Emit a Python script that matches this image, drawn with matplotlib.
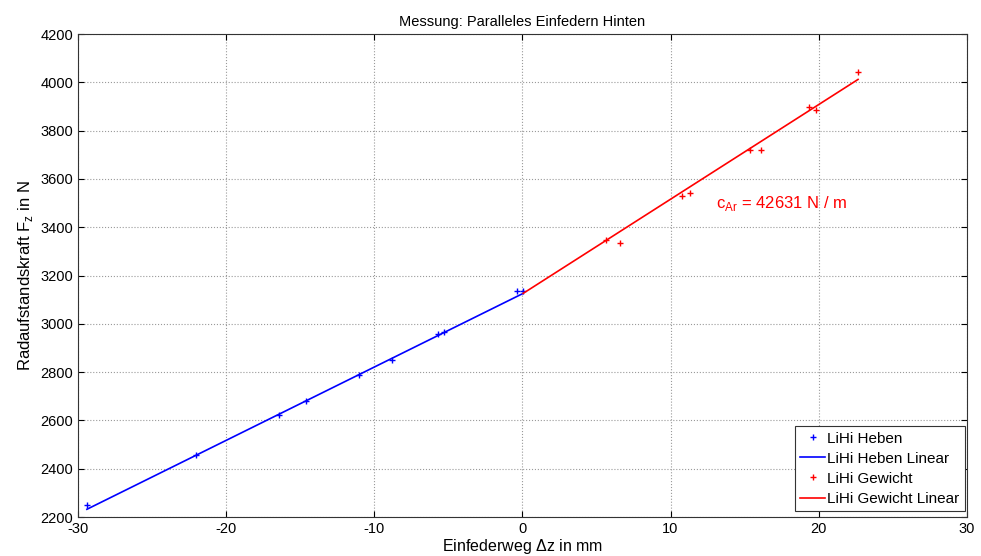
import matplotlib
matplotlib.use("Agg")
import matplotlib.pyplot as plt

plt.rcParams["font.family"] = ["Liberation Sans", "DejaVu Sans"]
plt.rcParams["axes.unicode_minus"] = False
plt.rcParams["mathtext.fontset"] = "custom"
plt.rcParams["mathtext.rm"] = "Liberation Sans"

# measured points, LiHi Heben (blue)
heben_x = [-29.4, -22.0, -16.4, -14.6, -11.0, -8.8, -5.7, -5.3, -0.35, 0.05]
heben_y = [2250, 2457, 2624, 2680, 2790, 2850, 2958, 2966, 3136, 3136]
# linear fit line endpoints
heben_fit_x = [-29.4, 0.05]
heben_fit_y = [2232, 3126]

# measured points, LiHi Gewicht (red)
gewicht_x = [5.63, 6.58, 10.78, 11.30, 15.35, 16.09, 19.35, 19.80, 22.66]
gewicht_y = [3346, 3336, 3530, 3540, 3720, 3720, 3896, 3884, 4041]
gewicht_fit_x = [0.05, 22.66]
gewicht_fit_y = [3126, 4012]

fig = plt.figure(figsize=(9.81, 5.56), dpi=100)
ax = fig.add_axes([0.0795, 0.0701, 0.906, 0.8687])

ax.plot(heben_x, heben_y, "+", color="blue", markersize=4, markeredgewidth=1.0, label="LiHi Heben")
ax.plot(heben_fit_x, heben_fit_y, "-", color="blue", linewidth=1.2, label="LiHi Heben Linear")
ax.plot(gewicht_x, gewicht_y, "+", color="red", markersize=4, markeredgewidth=1.0, label="LiHi Gewicht")
ax.plot(gewicht_fit_x, gewicht_fit_y, "-", color="red", linewidth=1.2, label="LiHi Gewicht Linear")

ax.text(13.1, 3500, r"c$_{\mathrm{Ar}}$ = 42631 N / m", color="red", fontsize=12, va="center")

ax.set_xlim(-30, 30)
ax.set_ylim(2200, 4200)
ax.set_xticks(range(-30, 31, 10))
ax.set_yticks(range(2200, 4201, 200))
ax.grid(True, linestyle=":", color="#9a9a9a", linewidth=0.8)
ax.tick_params(direction="in", labelsize=10.5, top=True, right=True, length=4)
for s in ax.spines.values():
    s.set_color("#333333")
    s.set_linewidth(0.8)

ax.set_title("Messung: Paralleles Einfedern Hinten", fontsize=10.5)
ax.set_xlabel(r"Einfederweg $\Delta$z in mm", fontsize=11.5, labelpad=1)
ax.set_ylabel(r"Radaufstandskraft F$_\mathrm{z}$ in N", fontsize=12)

leg = ax.legend(loc="lower right", bbox_to_anchor=(0.998, 0.012), fontsize=11,
                fancybox=False, framealpha=1, edgecolor="#333333", borderaxespad=0,
                handlelength=1.65, handletextpad=0.15, labelspacing=0.4, borderpad=0.35)
leg.get_frame().set_linewidth(0.8)

fig.savefig("out.png", dpi=100)
